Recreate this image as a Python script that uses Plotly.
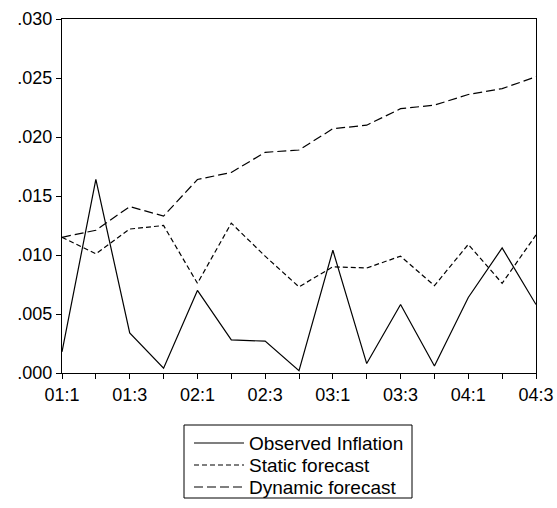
import plotly.graph_objects as go

# Quarterly periods 2001Q1 .. 2004Q3
quarters = ["01:1", "01:2", "01:3", "01:4", "02:1", "02:2", "02:3", "02:4",
            "03:1", "03:2", "03:3", "03:4", "04:1", "04:2", "04:3"]

observed = [0.0018, 0.0164, 0.0034, 0.0004, 0.0070, 0.0028, 0.0027, 0.0002,
            0.0104, 0.0008, 0.0058, 0.0006, 0.0064, 0.0106, 0.0058]
static_fc = [0.0115, 0.0101, 0.0122, 0.0125, 0.0076, 0.0127, 0.0099, 0.0073,
             0.0090, 0.0089, 0.0099, 0.0074, 0.0109, 0.0076, 0.0117]
dynamic_fc = [0.0115, 0.0121, 0.0141, 0.0133, 0.0164, 0.0170, 0.0187, 0.0189,
              0.0207, 0.0210, 0.0224, 0.0227, 0.0236, 0.0241, 0.0251]

series_names = ["Observed Inflation", "Static forecast", "Dynamic forecast"]
series_dash = ["solid", "5px,3px", "9px,4px"]

y_ticks = [0.000, 0.005, 0.010, 0.015, 0.020, 0.025, 0.030]
y_labels = [".000", ".005", ".010", ".015", ".020", ".025", ".030"]

W, H = 557, 508
M_L, M_R, M_T, M_B = 62, 21, 19, 135
PLOT_W = W - M_L - M_R
PLOT_H = H - M_T - M_B

x = list(range(len(quarters)))
label_idx = list(range(0, len(quarters), 2))

font_family = "Liberation Sans"

fig = go.Figure()
for name, vals, dash in zip(series_names, [observed, static_fc, dynamic_fc], series_dash):
    fig.add_trace(go.Scatter(x=x, y=vals, mode="lines", name=name,
                             line=dict(color="black", width=1.2, dash=dash)))


def px_x(p):
    return (p - M_L) / PLOT_W


def px_y(p):
    return (H - M_B - p) / PLOT_H


# Legend box below the plot: framed key with line samples and labels
shapes = [dict(type="rect", xref="paper", yref="paper",
               x0=px_x(184), x1=px_x(412), y0=px_y(425), y1=px_y(498),
               line=dict(color="black", width=1))]
annotations = []
for i, (name, dash) in enumerate(zip(series_names, series_dash)):
    yc = 443 + 22 * i
    shapes.append(dict(type="line", xref="paper", yref="paper",
                       x0=px_x(194), x1=px_x(244), y0=px_y(yc), y1=px_y(yc),
                       line=dict(color="black", width=1.2, dash=dash)))
    annotations.append(dict(text=name, xref="paper", yref="paper",
                            x=px_x(247), y=px_y(yc), xanchor="left", yanchor="middle",
                            showarrow=False,
                            font=dict(family=font_family, size=19, color="black")))

fig.update_layout(
    width=W, height=H,
    margin=dict(l=M_L, r=M_R, t=M_T, b=M_B),
    paper_bgcolor="white", plot_bgcolor="white",
    font=dict(family=font_family, color="black", size=18),
    showlegend=False,
    shapes=shapes,
    annotations=annotations,
    xaxis=dict(
        range=[0, len(quarters) - 1],
        tickmode="array",
        tickvals=label_idx,
        ticktext=[quarters[i] for i in label_idx],
        ticks="outside", ticklen=5, tickwidth=1, tickcolor="black",
        minor=dict(tickmode="array", tickvals=x, ticks="outside", ticklen=5,
                   tickcolor="black", showgrid=False),
        showline=True, linecolor="black", linewidth=1.2, mirror=True,
        showgrid=False, zeroline=False, automargin=False,
        tickfont=dict(family=font_family, size=18, color="black"),
    ),
    yaxis=dict(
        range=[0, 0.030],
        tickmode="array", tickvals=y_ticks, ticktext=y_labels,
        ticks="outside", ticklen=5, tickwidth=1, tickcolor="black",
        showline=True, linecolor="black", linewidth=1.2, mirror=True,
        showgrid=False, zeroline=False, automargin=False,
        tickfont=dict(family=font_family, size=18, color="black"),
    ),
)

fig.write_html("out.html")
